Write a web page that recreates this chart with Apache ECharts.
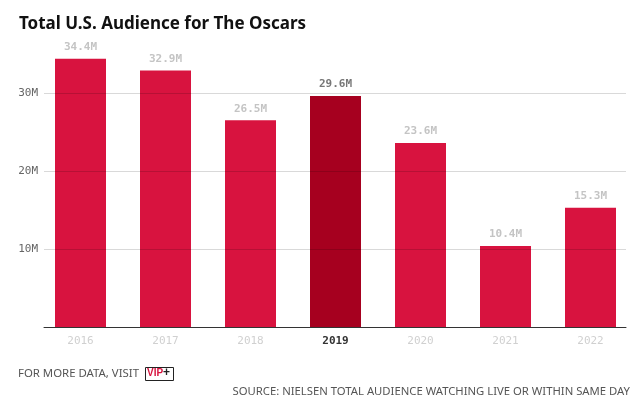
<!DOCTYPE html>
<html><head><meta charset="utf-8">
<script src="https://cdn.jsdelivr.net/npm/echarts@6/dist/echarts.min.js"></script>
<style>html,body{margin:0;padding:0;background:#fff}#c{width:640px;height:409px}</style>
</head><body><div id="c"></div>
<script>
const categories = ['2016','2017','2018','2019','2020','2021','2022'];
const audience = [34.4, 32.9, 26.5, 29.6, 23.6, 10.4, 15.3];
const highlightYear = '2019';
const yMin = 0, yMax = 35, yStep = 10;

const chart = echarts.init(document.getElementById('c'));
const data = audience.map((v, i) => {
  const hi = categories[i] === highlightYear;
  return {
    value: v,
    itemStyle: { color: hi ? '#A6001F' : '#D8133F' },
    label: { color: hi ? '#777' : '#c4c4c4' }
  };
});
const mono = 'DejaVu Sans Mono';
chart.setOption({
  animation: false,
  title: {
    text: 'Total U.S. Audience for The Oscars',
    left: 14, top: 11,
    textStyle: { fontFamily: 'Noto Sans', fontWeight: 'bold', fontSize: 17, color: '#111' }
  },
  grid: [
    { left: 38, right: 7, top: 54, bottom: 82 },
    { left: 44, right: 14, top: 54, bottom: 82 }
  ],
  xAxis: [{
    type: 'category', data: categories, gridIndex: 0,
    axisTick: { show: false },
    axisLine: { show: false },
    axisLabel: {
      margin: 9,
      formatter: v => v === highlightYear ? '{h|' + v + '}' : '{n|' + v + '}',
      rich: {
        n: { color: '#d0d0d0', fontFamily: mono, fontSize: 11 },
        h: { color: '#333', fontWeight: 'bold', fontFamily: mono, fontSize: 11 }
      }
    }
  }, {
    type: 'category', data: categories, gridIndex: 1,
    axisTick: { show: false }, axisLabel: { show: false },
    axisLine: { lineStyle: { color: '#333', width: 1 } }, z: 6
  }],
  yAxis: [{
    type: 'value', gridIndex: 0, min: yMin, max: yMax, interval: yStep, show: false
  }, {
    type: 'value', gridIndex: 1, min: yMin, max: yMax, interval: yStep, z: 5,
    axisLine: { show: false }, axisTick: { show: false },
    splitLine: { showMaxLine: false, lineStyle: { color: 'rgba(0,0,0,0.15)' } },
    axisLabel: {
      margin: 6, color: '#666', fontFamily: mono, fontSize: 11,
      formatter: v => (v === 0 || v === yMax) ? '' : v + 'M'
    }
  }],
  series: [{
    type: 'bar', data: data, barWidth: '60%', xAxisIndex: 0, yAxisIndex: 0,
    label: {
      show: true, position: 'top', distance: 6,
      fontFamily: mono, fontWeight: 'bold', fontSize: 11,
      formatter: p => p.value + 'M'
    }
  }],
  graphic: [
    { type: 'text', left: 18, top: 368, style: { text: 'FOR MORE DATA, VISIT', fill: '#555', font: '11.4px "Liberation Sans Narrow", "Noto Sans", sans-serif' } },
    { type: 'rect', left: 145, top: 367, shape: { width: 28, height: 13 }, style: { fill: '#fff', stroke: '#222', lineWidth: 1 } },
    { type: 'text', left: 147, top: 368, style: { text: 'VIP', fill: '#D8133F', fontFamily: 'Liberation Sans', fontWeight: 'bold', fontSize: 10 } },
    { type: 'text', left: 163, top: 367, style: { text: '+', fill: '#222', fontFamily: 'Liberation Sans', fontWeight: 'bold', fontSize: 12 } },
    { type: 'text', right: 10, top: 386, style: { text: 'SOURCE: NIELSEN TOTAL AUDIENCE WATCHING LIVE OR WITHIN SAME DAY', fill: '#555', font: '11.3px "Liberation Sans Narrow", "Noto Sans", sans-serif' } }
  ]
});
</script></body></html>
